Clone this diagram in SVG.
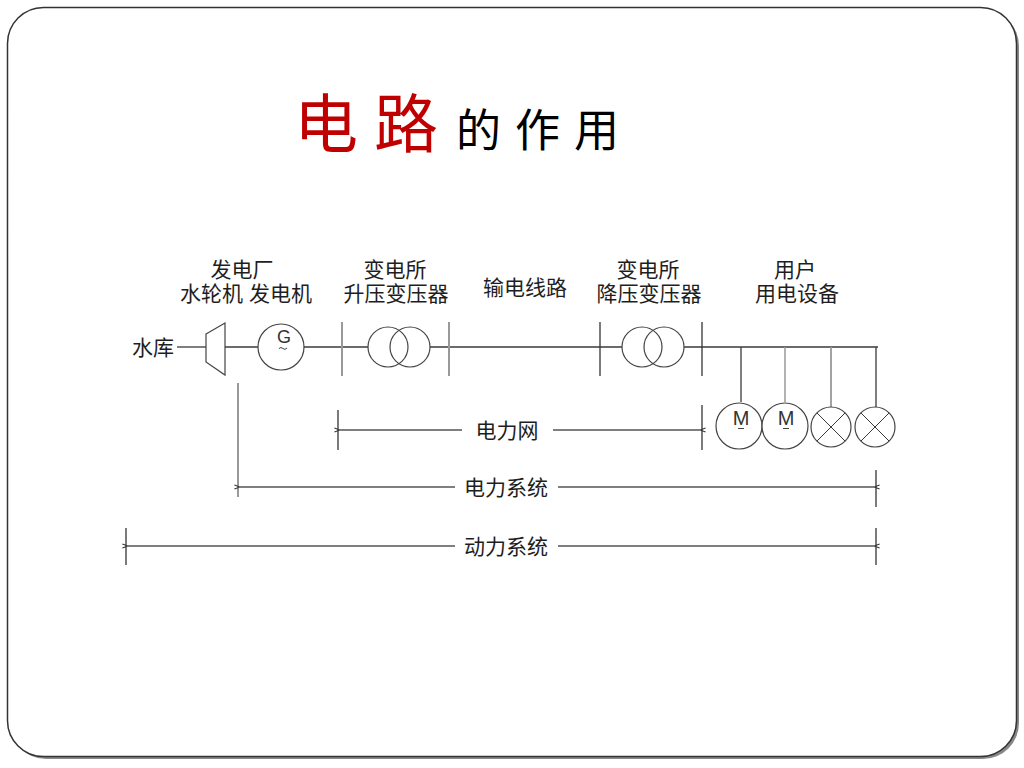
<svg xmlns="http://www.w3.org/2000/svg" width="1024" height="768" viewBox="0 0 1024 768">
<defs>
<style>
.t{font-family:"Liberation Sans","Noto Sans CJK SC",sans-serif;fill:#1e1e1e;font-size:21px;text-anchor:middle}
.ln{stroke:#3a3a3a;stroke-width:1.3;fill:none}
.lg{stroke:#999;stroke-width:2;fill:none}
.sym{stroke:#444;stroke-width:1.2;fill:#fff}
.dim{stroke:#555;stroke-width:1.3;fill:none}
.tick{stroke:#333;stroke-width:1.3;fill:none}
</style>
<marker id="ah" viewBox="0 0 10 10" refX="0" refY="5" markerWidth="7" markerHeight="7" orient="auto-start-reverse" markerUnits="userSpaceOnUse">
<path d="M8,2 L0,5 L8,8" fill="none" stroke="#333" stroke-width="1.5"/>
</marker>
</defs>
<rect x="0" y="0" width="1024" height="768" fill="#fff"/>
<rect x="10" y="10" width="1009" height="749" rx="36" fill="#888"/>
<rect x="7.5" y="7.5" width="1009" height="749" rx="36" fill="#fff" stroke="#333" stroke-width="1.5"/>

<g id="title" font-family="'Noto Sans CJK SC',sans-serif">
<text y="147" font-size="64" fill="#c00000"><tspan x="294">电</tspan><tspan x="374">路</tspan></text>
<text y="147" font-size="45" fill="#000"><tspan x="456">的</tspan><tspan x="515">作</tspan><tspan x="574">用</tspan></text>
</g>

<g id="connectors">
<line class="ln" x1="177" y1="347" x2="206" y2="347"/>
<line class="ln" x1="225" y1="347" x2="258" y2="347"/>
<line class="ln" x1="304" y1="347" x2="368" y2="347"/>
<line class="ln" x1="430" y1="347" x2="622" y2="347"/>
<line class="ln" x1="684" y1="347" x2="878" y2="347"/>
<line class="ln" x1="741" y1="347" x2="741" y2="402"/>
<line class="lg" x1="785" y1="347" x2="785" y2="402" style="stroke-width:1.5"/>
<line class="lg" x1="831" y1="347" x2="831" y2="407" style="stroke-width:1.8"/>
<line class="ln" x1="876" y1="347" x2="876" y2="407"/>
</g>

<g id="reservoir"><text class="t" x="153" y="355">水库</text></g>

<g id="turbine">
<path class="sym" d="M206,334 L225,323 L225,375 L206,362 Z"/>
</g>

<g id="generator">
<circle class="sym" cx="281" cy="347" r="23"/>
<text x="284" y="343" font-family="'Liberation Sans',sans-serif" font-size="18" fill="#333" text-anchor="middle">G</text>
<path d="M279,348.5 Q281,346.5 283,348.5 T287,348" stroke="#444" stroke-width="1" fill="none"/>
</g>

<g id="plant-label">
<text class="t" x="242" y="277">发电厂</text>
<text class="t" x="246" y="301">水轮机 发电机</text>
</g>

<g id="step-up">
<line class="lg" x1="342" y1="322" x2="342" y2="376"/>
<line class="lg" x1="449" y1="322" x2="449" y2="376"/>
<circle cx="388" cy="347" r="20" class="sym" style="fill:none"/>
<circle cx="410" cy="347" r="20" class="sym" style="fill:none"/>
<text class="t" x="395" y="277">变电所</text>
<text class="t" x="396" y="301">升压变压器</text>
</g>

<g id="line-label"><text class="t" x="525" y="295">输电线路</text></g>

<g id="step-down">
<line class="tick" x1="600" y1="322" x2="600" y2="376"/>
<line class="tick" x1="702" y1="322" x2="702" y2="376"/>
<circle cx="642" cy="347" r="20" class="sym" style="fill:none"/>
<circle cx="664" cy="347" r="20" class="sym" style="fill:none"/>
<text class="t" x="648" y="277">变电所</text>
<text class="t" x="649" y="301">降压变压器</text>
</g>

<g id="users">
<text class="t" x="795" y="277">用户</text>
<text class="t" x="797" y="301">用电设备</text>
</g>

<g id="motor1">
<circle class="sym" cx="739" cy="426" r="23"/>
<text x="741" y="425" font-family="'Liberation Sans',sans-serif" font-size="20" fill="#333" text-anchor="middle">M</text>
<path d="M738,428.5 L744,428.5" stroke="#444" stroke-width="1"/>
</g>
<g id="motor2">
<circle class="sym" cx="785" cy="426" r="23"/>
<text x="786" y="425" font-family="'Liberation Sans',sans-serif" font-size="20" fill="#333" text-anchor="middle">M</text>
<path d="M783,428.5 L789,428.5" stroke="#444" stroke-width="1"/>
</g>
<g id="lamp1">
<circle class="sym" cx="831" cy="427" r="20"/>
<path class="ln" d="M817,413 L845,441 M845,413 L817,441" style="stroke-width:1"/>
</g>
<g id="lamp2">
<circle class="sym" cx="875" cy="427" r="20"/>
<path class="ln" d="M861,413 L889,441 M889,413 L861,441" style="stroke-width:1"/>
</g>

<g id="grid-dim">
<line class="tick" x1="338" y1="410" x2="338" y2="450"/>
<line class="tick" x1="702" y1="405" x2="702" y2="450"/>
<line class="dim" x1="340" y1="430" x2="462" y2="430" marker-start="url(#ah)"/>
<line class="dim" x1="553" y1="430" x2="700" y2="430" marker-end="url(#ah)"/>
<text class="t" x="507" y="438">电力网</text>
</g>

<g id="power-system-dim">
<line class="lg" x1="238" y1="383" x2="238" y2="497"/>
<line class="tick" x1="876" y1="470" x2="876" y2="507"/>
<line class="dim" x1="240" y1="487" x2="455" y2="487" marker-start="url(#ah)"/>
<line class="dim" x1="558" y1="487" x2="874" y2="487" marker-end="url(#ah)"/>
<text class="t" x="506" y="495">电力系统</text>
</g>

<g id="dynamic-system-dim">
<line class="tick" x1="126" y1="528" x2="126" y2="565"/>
<line class="tick" x1="876" y1="528" x2="876" y2="565"/>
<line class="dim" x1="128" y1="546" x2="455" y2="546" marker-start="url(#ah)"/>
<line class="dim" x1="558" y1="546" x2="874" y2="546" marker-end="url(#ah)"/>
<text class="t" x="506" y="554">动力系统</text>
</g>
</svg>
